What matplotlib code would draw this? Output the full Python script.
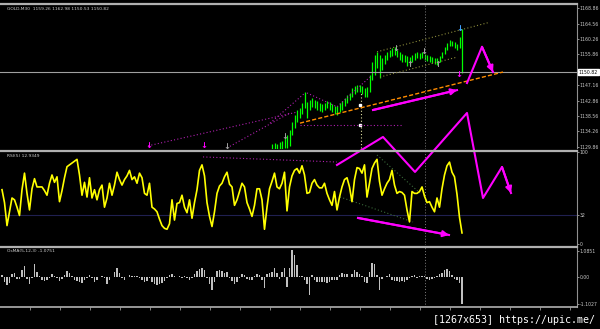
import numpy as np
import matplotlib.pyplot as plt

# RSI(5), one value per bar
rsi = [59, 45, 20, 35, 50, 48, 40, 31, 59, 77, 55, 37, 60, 71, 62, 62, 62, 58, 53, 66,
       75, 67, 73, 46, 58, 72, 84, 86, 88, 90, 92, 75, 53, 67, 51, 72, 50, 59, 48, 59,
       64, 40, 50, 66, 53, 64, 78, 70, 64, 70, 74, 80, 70, 73, 66, 77, 72, 55, 53, 66,
       40, 38, 35, 27, 20, 17, 16, 22, 48, 26, 44, 45, 53, 40, 34, 48, 28, 45, 59, 80,
       86, 74, 45, 30, 19, 35, 55, 63, 66, 73, 78, 65, 62, 42, 48, 57, 66, 62, 45, 38,
       30, 42, 60, 60, 48, 16, 40, 60, 68, 77, 62, 60, 66, 78, 36, 62, 74, 80, 82, 77,
       85, 75, 55, 56, 66, 70, 64, 61, 61, 66, 55, 48, 42, 57, 37, 51, 62, 70, 72, 62,
       46, 70, 83, 82, 77, 86, 51, 66, 82, 88, 92, 68, 53, 60, 66, 70, 80, 64, 55, 57,
       56, 53, 37, 24, 57, 55, 55, 57, 62, 52, 45, 46, 40, 35, 50, 40, 60, 75, 85, 89,
       78, 73, 54, 29, 12]

# OsMA(5,12,3) histogram, one value per bar
osma = [0.07, -0.20, -0.34, -0.25, 0.14, 0.18, -0.07, -0.10, 0.27, 0.44,
        -0.07, -0.30, -0.05, 0.55, 0.20, 0.03, -0.11, -0.16, -0.14, -0.04,
        0.14, 0.03, -0.03, -0.16, -0.07, 0.07, 0.23, 0.18, 0.03, -0.11,
        -0.16, -0.22, -0.23, -0.14, -0.03, 0.10, -0.03, -0.22, -0.11, 0.02,
        0.04, -0.03, -0.27, -0.11, -0.02, 0.20, 0.38, 0.16, -0.03, -0.11,
        0.02, 0.08, 0.03, 0.05, 0.03, -0.03, -0.11, -0.20, -0.16, -0.03,
        -0.20, -0.30, -0.33, -0.27, -0.23, -0.16, -0.05, 0.08, 0.14, 0.05,
        0.00, 0.03, -0.03, 0.03, -0.03, -0.11, -0.03, 0.14, 0.25, 0.31,
        0.36, 0.27, -0.03, -0.27, -0.55, -0.20, 0.25, 0.27, 0.25, 0.18,
        0.22, -0.03, -0.16, -0.27, -0.19, -0.03, 0.14, 0.08, -0.08, -0.14,
        -0.11, 0.03, 0.14, 0.08, -0.11, -0.44, 0.11, 0.18, 0.19, 0.38,
        0.16, -0.07, 0.20, 0.36, -0.41, 0.38, 1.09, 0.89, 0.48, 0.03,
        0.03, -0.11, -0.27, -0.75, 0.07, -0.11, -0.22, -0.22, -0.19, -0.19,
        -0.25, -0.22, -0.11, -0.14, -0.11, 0.08, 0.18, 0.14, 0.11, 0.02,
        0.14, 0.30, 0.20, 0.11, 0.03, -0.20, -0.25, 0.20, 0.57, 0.55,
        0.07, -0.52, -0.07, -0.02, 0.03, 0.11, -0.14, -0.16, -0.18, -0.19,
        -0.18, -0.19, -0.11, -0.03, 0.05, 0.08, -0.03, 0.03, 0.05, 0.03,
        -0.08, -0.11, -0.08, -0.03, 0.05, 0.11, 0.18, 0.27, 0.31, 0.25,
        0.07, -0.07, -0.14, -0.25, -1.10]

# price bars visible in the window (first one is bar 108)
first_bar = 108
bar_hi = [1130.6, 1130.9, 1130.6, 1131.2, 1131.5, 1132.3, 1133.2, 1134.6, 1136.8, 1138.8,
          1140.2, 1140.8, 1142.2, 1145.3, 1142.5, 1143.0, 1143.6, 1143.0, 1142.7, 1142.2,
          1141.9, 1142.2, 1142.7, 1142.5, 1141.9, 1141.3, 1141.3, 1142.2, 1142.7, 1143.6,
          1144.4, 1145.0, 1146.4, 1147.0, 1147.2, 1147.2, 1147.0, 1146.4, 1146.7, 1150.1,
          1153.7, 1155.7, 1156.5, 1155.7, 1154.9, 1155.7, 1156.5, 1157.1, 1157.7, 1158.0,
          1157.1, 1156.5, 1156.0, 1155.7, 1155.4, 1155.1, 1155.7, 1156.3, 1156.5, 1156.3,
          1156.5, 1156.0, 1155.7, 1155.4, 1155.1, 1154.9, 1154.9, 1155.4, 1156.5, 1158.0,
          1159.1, 1159.9, 1159.6, 1159.4, 1158.8, 1160.8, 1162.98]
bar_lo = [1128.9, 1128.9, 1128.9, 1128.9, 1128.9, 1129.5, 1129.5, 1130.1, 1133.2, 1135.1,
          1136.8, 1138.0, 1139.1, 1140.8, 1138.0, 1140.2, 1141.1, 1140.8, 1140.2, 1139.9,
          1139.6, 1140.2, 1140.8, 1140.2, 1139.6, 1139.1, 1138.8, 1139.6, 1140.2, 1141.3,
          1142.2, 1143.0, 1143.9, 1144.7, 1145.3, 1145.3, 1144.7, 1143.9, 1143.9, 1145.3,
          1148.7, 1150.1, 1152.0, 1149.2, 1151.5, 1153.2, 1154.3, 1155.1, 1155.4, 1155.7,
          1155.1, 1154.3, 1153.7, 1153.7, 1152.6, 1152.9, 1153.7, 1154.3, 1154.9, 1154.6,
          1154.9, 1154.3, 1154.0, 1153.7, 1153.5, 1153.2, 1152.9, 1153.7, 1154.9, 1156.0,
          1157.1, 1158.2, 1158.2, 1157.7, 1157.1, 1157.7, 1150.53]

last_close = 1150.82
price_ticks = [1168.86, 1164.56, 1160.26, 1155.86, 1147.16, 1142.86, 1138.56, 1134.26, 1129.86]
header = "GOLD,M30  1159.26 1162.98 1150.53 1150.82"

# fractal arrows: (bar, price, symbol, colour)
arrows = [(58.8, 1130.1, '↓', '#ff00ff'), (80.8, 1130.3, '↓', '#ff00ff'),
          (90.0, 1129.9, '↓', '#a0a0a0'), (113.2, 1132.6, '↓', '#a0a0a0'),
          (157.6, 1157.4, '↓', '#a0a0a0'), (168.8, 1156.8, '↓', '#a0a0a0'),
          (163.2, 1152.9, '↑', '#a0a0a0'), (174.4, 1152.9, '↑', '#a0a0a0'),
          (183.2, 1163.3, '↓', '#3fa0ff'), (182.8, 1150.3, '↓', '#ff00ff')]

# hand drawn lines (bar, value)
orange_line = ([119.2, 200.4], [1136.5, 1150.9])
channel_up = ([150.0, 194.4], [1156.6, 1164.8])
channel_dn = ([151.2, 182.0], [1149.5, 1155.1])
purple_dots = [([58.4, 118.0], [1130.1, 1139.6]), ([90.0, 115.2], [1129.5, 1139.4]),
               ([107.2, 121.2], [1136.5, 1145.0]), ([122.0, 134.0, 147.2], [1145.0, 1141.1, 1149.5]),
               ([119.2, 160.4], [1136.0, 1136.0])]
rsi_purple = ([80.4, 134.0], [94.6, 89.1])
rsi_green = [([150.0, 167.2], [96.7, 55.4]), ([135.2, 164.4], [51.1, 23.9])]
price_arrow = ([148.4, 182.0], [1140.2, 1145.8])
price_zigzag = ([186.0, 192.0, 196.4], [1147.8, 1158.0, 1150.9])
rsi_zigzag = ([134.0, 152.4, 165.2, 186.0, 192.4, 200.0, 203.6],
              [85.9, 116.3, 78.3, 142.4, 50.0, 83.7, 55.4])
rsi_arrow = ([142.4, 178.8], [28.3, 9.8])

W, H = 600, 329
fig = plt.figure(figsize=(6, 3.29), dpi=100, facecolor='black')


def panel(top, bottom):
    ax = fig.add_axes([0, 1 - bottom / H, 577 / W, (bottom - top) / H])
    ax.set_facecolor('black')
    ax.set_xlim(-0.8, 230)
    for s in ['left', 'bottom']:
        ax.spines[s].set_visible(False)
    ax.spines['right'].set_color('#909090')
    ax.spines['right'].set_linewidth(0.8)
    ax.spines['top'].set_color('#b0b0b0')
    ax.spines['top'].set_linewidth(1.6)
    ax.yaxis.tick_right()
    ax.set_xticks([])
    ax.tick_params(axis='y', colors='#c8c8c8', labelsize=3.3, length=1.5, width=0.5, pad=0.6)
    return ax


def head(ax, xs, ys):
    ax.annotate('', xy=(xs[-1], ys[-1]), xytext=(xs[-2], ys[-2]),
                arrowprops=dict(arrowstyle='-|>,head_length=0.35,head_width=0.18',
                                color='#ff00ff', lw=1.5, shrinkA=0, shrinkB=0),
                annotation_clip=False)


# price panel
ax1 = panel(4, 148.5)
ax1.set_ylim(1129.35, 1170.07)
ax1.set_yticks(price_ticks)
ax1.set_yticklabels(['%.2f' % p for p in price_ticks])
t_bars = np.arange(first_bar, first_bar + len(bar_hi))
ax1.vlines(t_bars, bar_lo, bar_hi, color='#00ff00', lw=0.9)
ax1.axhline(last_close, color='#a0a0a0', lw=0.8)
ax1.axvline(169.2, color='#808080', lw=0.7, ls=(0, (1, 2)))
ax1.vlines(143.6, 1129.35, 1145.3, color='#e0e0a0', lw=0.8, ls=(0, (1, 2)))
ax1.plot([143.2, 143.2], [1141.6, 1136.0], 's', color='white', ms=1.5)
ax1.plot(*orange_line, color='#ff8c00', lw=1.0, ls=(0, (3, 1.5)))
ax1.plot(*channel_up, color='#8a8a3a', lw=0.8, ls=(0, (1, 2)))
ax1.plot(*channel_dn, color='#8a8a3a', lw=0.8, ls=(0, (1, 2)))
for xs, ys in purple_dots:
    ax1.plot(xs, ys, color='#b020b0', lw=0.8, ls=(0, (1, 2)))
for t, p, sym, c in arrows:
    ax1.text(t, p, sym, color=c, fontsize=6, fontweight='bold', ha='center', va='center')
ax1.plot(*price_arrow, color='#ff00ff', lw=1.5, clip_on=False)
head(ax1, *price_arrow)
ax1.plot(*price_zigzag, color='#ff00ff', lw=1.5, clip_on=False)
head(ax1, *price_zigzag)
ax1.text(2, 1168.8, header, color='#d0d0d0', fontsize=3.2, va='center')
ax1.annotate('%.2f' % last_close, xy=(1.003, last_close), xycoords=('axes fraction', 'data'),
             fontsize=3.3, color='black', va='center', ha='left',
             bbox=dict(boxstyle='square,pad=0.15', fc='white', ec='white'))

# RSI panel
ax2 = panel(150.5, 245)
ax2.set_ylim(-1.1, 101.6)
ax2.set_yticks([100, 32, 0])
ax2.axhline(32, color='#202050', lw=0.8)
ax2.axvline(169.2, color='#808080', lw=0.7, ls=(0, (1, 2)))
ax2.plot(*rsi_purple, color='#b020b0', lw=0.8, ls=(0, (1, 2)))
for xs, ys in rsi_green:
    ax2.plot(xs, ys, color='#3a6a3a', lw=0.8, ls=(0, (1, 2)))
ax2.plot(np.arange(len(rsi)), rsi, color='#ffff00', lw=1.2)
ax2.plot(*rsi_zigzag, color='#ff00ff', lw=1.5, clip_on=False)
head(ax2, *rsi_zigzag)
ax2.plot(*rsi_arrow, color='#ff00ff', lw=1.5)
head(ax2, *rsi_arrow)
ax2.text(2, 96, 'RSI(5) 12.9349', color='#d0d0d0', fontsize=3.2, va='center')

# OsMA panel
ax3 = panel(247, 307)
ax3.set_ylim(-1.23, 1.23)
ax3.set_yticks([1.0851, 0, -1.1027])
ax3.set_yticklabels(['1.0851', '0.00', '-1.1027'])
ax3.spines['bottom'].set_visible(True)
ax3.spines['bottom'].set_color('#b0b0b0')
ax3.spines['bottom'].set_linewidth(1.2)
ax3.set_xticks(np.arange(11, 230, 12))
ax3.tick_params(axis='x', colors='#b0b0b0', length=2, width=0.5, labelbottom=False)
ax3.axvline(169.2, color='#808080', lw=0.7, ls=(0, (1, 2)))
ax3.bar(np.arange(len(osma)), osma, width=0.55, color='#c0c0c0')
ax3.text(2, 1.05, 'OsMA(5,12,3) -1.0751', color='#d0d0d0', fontsize=3.2, va='center')

fig.text(0.992, 0.012, '[1267x653] https://upic.me/', ha='right', va='bottom',
         color='white', fontsize=7.2, family='DejaVu Sans Mono')

fig.savefig('out.png', dpi=100, facecolor='black')
